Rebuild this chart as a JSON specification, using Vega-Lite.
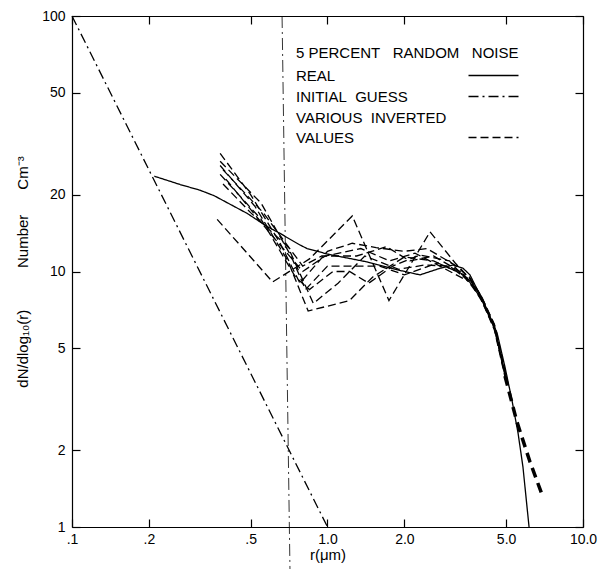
{
  "$schema": "https://vega.github.io/schema/vega-lite/v6.json",
  "width": 511,
  "height": 511,
  "autosize": {"type": "none"},
  "padding": {"left": 72, "top": 16, "right": 22, "bottom": 42},
  "background": "white",
  "config": {
    "view": {"stroke": null},
    "font": "Liberation Sans",
    "axis": {
      "grid": false,
      "domainColor": "black",
      "domainWidth": 1.2,
      "tickColor": "black",
      "tickWidth": 1.2,
      "tickSize": -8,
      "labelColor": "black",
      "labelFont": "Liberation Sans",
      "labelFontSize": 14,
      "labelFlush": false,
      "labelOverlap": false,
      "labelBound": false,
      "titleFont": "Liberation Sans",
      "titleFontWeight": "normal",
      "titleColor": "black"
    }
  },
  "datasets": {
    "curves": [
      {"series": "INITIAL GUESS", "curve": "guess", "r": 0.1, "n": 100},
      {"series": "INITIAL GUESS", "curve": "guess", "r": 1.0, "n": 1.0},

      {"series": "REAL", "curve": "real", "r": 0.21, "n": 23.6},
      {"series": "REAL", "curve": "real", "r": 0.265, "n": 21.9},
      {"series": "REAL", "curve": "real", "r": 0.317, "n": 20.8},
      {"series": "REAL", "curve": "real", "r": 0.36, "n": 19.8},
      {"series": "REAL", "curve": "real", "r": 0.43, "n": 18.0},
      {"series": "REAL", "curve": "real", "r": 0.484, "n": 16.9},
      {"series": "REAL", "curve": "real", "r": 0.58, "n": 15.0},
      {"series": "REAL", "curve": "real", "r": 0.652, "n": 14.1},
      {"series": "REAL", "curve": "real", "r": 0.78, "n": 12.7},
      {"series": "REAL", "curve": "real", "r": 0.832, "n": 12.3},
      {"series": "REAL", "curve": "real", "r": 1.0, "n": 11.7},
      {"series": "REAL", "curve": "real", "r": 1.09, "n": 11.5},
      {"series": "REAL", "curve": "real", "r": 1.43, "n": 10.9},
      {"series": "REAL", "curve": "real", "r": 1.92, "n": 10.1},
      {"series": "REAL", "curve": "real", "r": 2.3, "n": 9.7},
      {"series": "REAL", "curve": "real", "r": 2.76, "n": 10.3},
      {"series": "REAL", "curve": "real", "r": 3.1, "n": 10.6},
      {"series": "REAL", "curve": "real", "r": 3.39, "n": 10.3},
      {"series": "REAL", "curve": "real", "r": 3.61, "n": 9.7},
      {"series": "REAL", "curve": "real", "r": 4.0, "n": 7.9},
      {"series": "REAL", "curve": "real", "r": 4.61, "n": 5.75},
      {"series": "REAL", "curve": "real", "r": 4.95, "n": 4.23},
      {"series": "REAL", "curve": "real", "r": 5.27, "n": 3.14},
      {"series": "REAL", "curve": "real", "r": 5.57, "n": 2.33},
      {"series": "REAL", "curve": "real", "r": 5.82, "n": 1.72},
      {"series": "REAL", "curve": "real", "r": 6.15, "n": 1.0},

      {"series": "VARIOUS INVERTED VALUES", "curve": "c1", "r": 0.38, "n": 29},
      {"series": "VARIOUS INVERTED VALUES", "curve": "c1", "r": 0.5, "n": 20},
      {"series": "VARIOUS INVERTED VALUES", "curve": "c1", "r": 0.65, "n": 13},
      {"series": "VARIOUS INVERTED VALUES", "curve": "c1", "r": 0.78, "n": 9.0},
      {"series": "VARIOUS INVERTED VALUES", "curve": "c1", "r": 1.0, "n": 12.0},
      {"series": "VARIOUS INVERTED VALUES", "curve": "c1", "r": 1.25, "n": 12.9},
      {"series": "VARIOUS INVERTED VALUES", "curve": "c1", "r": 1.55, "n": 12.4},
      {"series": "VARIOUS INVERTED VALUES", "curve": "c1", "r": 2.0, "n": 12.0},
      {"series": "VARIOUS INVERTED VALUES", "curve": "c1", "r": 2.45, "n": 12.3},
      {"series": "VARIOUS INVERTED VALUES", "curve": "c1", "r": 3.2, "n": 10.5},
      {"series": "VARIOUS INVERTED VALUES", "curve": "c1", "r": 3.6, "n": 9.4},
      {"series": "VARIOUS INVERTED VALUES", "curve": "c1", "r": 4.0, "n": 7.9},
      {"series": "VARIOUS INVERTED VALUES", "curve": "c1", "r": 4.5, "n": 6.1},
      {"series": "VARIOUS INVERTED VALUES", "curve": "c1", "r": 5.0, "n": 3.9},

      {"series": "VARIOUS INVERTED VALUES", "curve": "c2", "r": 0.38, "n": 26},
      {"series": "VARIOUS INVERTED VALUES", "curve": "c2", "r": 0.52, "n": 18},
      {"series": "VARIOUS INVERTED VALUES", "curve": "c2", "r": 0.7, "n": 11},
      {"series": "VARIOUS INVERTED VALUES", "curve": "c2", "r": 0.84, "n": 7.0},
      {"series": "VARIOUS INVERTED VALUES", "curve": "c2", "r": 1.22, "n": 7.7},
      {"series": "VARIOUS INVERTED VALUES", "curve": "c2", "r": 1.5, "n": 9.5},
      {"series": "VARIOUS INVERTED VALUES", "curve": "c2", "r": 2.0, "n": 11.4},
      {"series": "VARIOUS INVERTED VALUES", "curve": "c2", "r": 2.6, "n": 11.0},
      {"series": "VARIOUS INVERTED VALUES", "curve": "c2", "r": 3.2, "n": 10.0},
      {"series": "VARIOUS INVERTED VALUES", "curve": "c2", "r": 3.6, "n": 9.2},
      {"series": "VARIOUS INVERTED VALUES", "curve": "c2", "r": 4.0, "n": 7.7},
      {"series": "VARIOUS INVERTED VALUES", "curve": "c2", "r": 4.5, "n": 6.0},
      {"series": "VARIOUS INVERTED VALUES", "curve": "c2", "r": 5.0, "n": 3.8},

      {"series": "VARIOUS INVERTED VALUES", "curve": "c3", "r": 0.37, "n": 16},
      {"series": "VARIOUS INVERTED VALUES", "curve": "c3", "r": 0.61, "n": 9.1},
      {"series": "VARIOUS INVERTED VALUES", "curve": "c3", "r": 0.85, "n": 11.2},
      {"series": "VARIOUS INVERTED VALUES", "curve": "c3", "r": 1.25, "n": 16.5},
      {"series": "VARIOUS INVERTED VALUES", "curve": "c3", "r": 1.74, "n": 7.7},
      {"series": "VARIOUS INVERTED VALUES", "curve": "c3", "r": 2.52, "n": 14.3},
      {"series": "VARIOUS INVERTED VALUES", "curve": "c3", "r": 3.16, "n": 10.8},
      {"series": "VARIOUS INVERTED VALUES", "curve": "c3", "r": 3.6, "n": 9.4},
      {"series": "VARIOUS INVERTED VALUES", "curve": "c3", "r": 4.0, "n": 8.0},
      {"series": "VARIOUS INVERTED VALUES", "curve": "c3", "r": 4.5, "n": 6.2},
      {"series": "VARIOUS INVERTED VALUES", "curve": "c3", "r": 5.0, "n": 3.9},

      {"series": "VARIOUS INVERTED VALUES", "curve": "c4", "r": 0.38, "n": 24},
      {"series": "VARIOUS INVERTED VALUES", "curve": "c4", "r": 0.55, "n": 16},
      {"series": "VARIOUS INVERTED VALUES", "curve": "c4", "r": 0.75, "n": 9.5},
      {"series": "VARIOUS INVERTED VALUES", "curve": "c4", "r": 0.85, "n": 8.5},
      {"series": "VARIOUS INVERTED VALUES", "curve": "c4", "r": 1.05, "n": 10.0},
      {"series": "VARIOUS INVERTED VALUES", "curve": "c4", "r": 1.22, "n": 10.0},
      {"series": "VARIOUS INVERTED VALUES", "curve": "c4", "r": 1.45, "n": 9.0},
      {"series": "VARIOUS INVERTED VALUES", "curve": "c4", "r": 1.8, "n": 10.5},
      {"series": "VARIOUS INVERTED VALUES", "curve": "c4", "r": 2.3, "n": 11.6},
      {"series": "VARIOUS INVERTED VALUES", "curve": "c4", "r": 3.0, "n": 11.0},
      {"series": "VARIOUS INVERTED VALUES", "curve": "c4", "r": 3.6, "n": 9.0},
      {"series": "VARIOUS INVERTED VALUES", "curve": "c4", "r": 4.0, "n": 7.8},
      {"series": "VARIOUS INVERTED VALUES", "curve": "c4", "r": 4.5, "n": 5.9},
      {"series": "VARIOUS INVERTED VALUES", "curve": "c4", "r": 5.0, "n": 3.7},

      {"series": "VARIOUS INVERTED VALUES", "curve": "c5", "r": 0.39, "n": 25},
      {"series": "VARIOUS INVERTED VALUES", "curve": "c5", "r": 0.56, "n": 17},
      {"series": "VARIOUS INVERTED VALUES", "curve": "c5", "r": 0.8, "n": 10.5},
      {"series": "VARIOUS INVERTED VALUES", "curve": "c5", "r": 0.95, "n": 11.5},
      {"series": "VARIOUS INVERTED VALUES", "curve": "c5", "r": 1.3, "n": 11.5},
      {"series": "VARIOUS INVERTED VALUES", "curve": "c5", "r": 1.7, "n": 12.5},
      {"series": "VARIOUS INVERTED VALUES", "curve": "c5", "r": 2.1, "n": 11.0},
      {"series": "VARIOUS INVERTED VALUES", "curve": "c5", "r": 2.6, "n": 11.5},
      {"series": "VARIOUS INVERTED VALUES", "curve": "c5", "r": 3.3, "n": 10.0},
      {"series": "VARIOUS INVERTED VALUES", "curve": "c5", "r": 3.6, "n": 9.2},
      {"series": "VARIOUS INVERTED VALUES", "curve": "c5", "r": 4.0, "n": 7.9},
      {"series": "VARIOUS INVERTED VALUES", "curve": "c5", "r": 4.5, "n": 6.1},
      {"series": "VARIOUS INVERTED VALUES", "curve": "c5", "r": 5.0, "n": 3.8},

      {"series": "VARIOUS INVERTED VALUES", "curve": "c6", "r": 0.39, "n": 22},
      {"series": "VARIOUS INVERTED VALUES", "curve": "c6", "r": 0.5, "n": 17},
      {"series": "VARIOUS INVERTED VALUES", "curve": "c6", "r": 0.7, "n": 12.5},
      {"series": "VARIOUS INVERTED VALUES", "curve": "c6", "r": 0.88, "n": 7.5},
      {"series": "VARIOUS INVERTED VALUES", "curve": "c6", "r": 1.1, "n": 9.0},
      {"series": "VARIOUS INVERTED VALUES", "curve": "c6", "r": 1.4, "n": 11.5},
      {"series": "VARIOUS INVERTED VALUES", "curve": "c6", "r": 1.9, "n": 10.2},
      {"series": "VARIOUS INVERTED VALUES", "curve": "c6", "r": 2.4, "n": 10.6},
      {"series": "VARIOUS INVERTED VALUES", "curve": "c6", "r": 3.0, "n": 10.5},
      {"series": "VARIOUS INVERTED VALUES", "curve": "c6", "r": 3.6, "n": 9.3},
      {"series": "VARIOUS INVERTED VALUES", "curve": "c6", "r": 4.0, "n": 8.0},
      {"series": "VARIOUS INVERTED VALUES", "curve": "c6", "r": 4.5, "n": 6.0},
      {"series": "VARIOUS INVERTED VALUES", "curve": "c6", "r": 5.0, "n": 3.75},

      {"series": "VARIOUS INVERTED VALUES", "curve": "c7", "r": 0.4, "n": 23},
      {"series": "VARIOUS INVERTED VALUES", "curve": "c7", "r": 0.6, "n": 14},
      {"series": "VARIOUS INVERTED VALUES", "curve": "c7", "r": 0.8, "n": 10},
      {"series": "VARIOUS INVERTED VALUES", "curve": "c7", "r": 0.98, "n": 11.5},
      {"series": "VARIOUS INVERTED VALUES", "curve": "c7", "r": 1.35, "n": 12.3},
      {"series": "VARIOUS INVERTED VALUES", "curve": "c7", "r": 1.75, "n": 11.0},
      {"series": "VARIOUS INVERTED VALUES", "curve": "c7", "r": 2.2, "n": 11.8},
      {"series": "VARIOUS INVERTED VALUES", "curve": "c7", "r": 2.8, "n": 10.4},
      {"series": "VARIOUS INVERTED VALUES", "curve": "c7", "r": 3.6, "n": 9.1},
      {"series": "VARIOUS INVERTED VALUES", "curve": "c7", "r": 4.0, "n": 7.8},
      {"series": "VARIOUS INVERTED VALUES", "curve": "c7", "r": 4.5, "n": 6.0},
      {"series": "VARIOUS INVERTED VALUES", "curve": "c7", "r": 5.0, "n": 3.8},

      {"series": "VARIOUS INVERTED VALUES", "curve": "c8", "r": 0.38, "n": 27},
      {"series": "VARIOUS INVERTED VALUES", "curve": "c8", "r": 0.55, "n": 18.5},
      {"series": "VARIOUS INVERTED VALUES", "curve": "c8", "r": 0.72, "n": 11.5},
      {"series": "VARIOUS INVERTED VALUES", "curve": "c8", "r": 0.82, "n": 8.5},
      {"series": "VARIOUS INVERTED VALUES", "curve": "c8", "r": 1.0, "n": 10.5},
      {"series": "VARIOUS INVERTED VALUES", "curve": "c8", "r": 1.6, "n": 10.5},
      {"series": "VARIOUS INVERTED VALUES", "curve": "c8", "r": 2.0, "n": 9.7},
      {"series": "VARIOUS INVERTED VALUES", "curve": "c8", "r": 2.7, "n": 10.8},
      {"series": "VARIOUS INVERTED VALUES", "curve": "c8", "r": 3.6, "n": 9.5},
      {"series": "VARIOUS INVERTED VALUES", "curve": "c8", "r": 4.0, "n": 8.0},
      {"series": "VARIOUS INVERTED VALUES", "curve": "c8", "r": 4.5, "n": 6.2},
      {"series": "VARIOUS INVERTED VALUES", "curve": "c8", "r": 5.0, "n": 3.85},

      {"series": "VARIOUS INVERTED VALUES", "curve": "tail", "r": 4.95, "n": 3.9},
      {"series": "VARIOUS INVERTED VALUES", "curve": "tail", "r": 5.5, "n": 2.6},
      {"series": "VARIOUS INVERTED VALUES", "curve": "tail", "r": 6.2, "n": 1.8},
      {"series": "VARIOUS INVERTED VALUES", "curve": "tail", "r": 6.97, "n": 1.31}
    ],
    "divider": [
      {"r": 0.664, "n": 100},
      {"r": 0.713, "n": 0.685}
    ]
  },
  "layer": [
    {
      "data": {"name": "curves"},
      "transform": [{"filter": "datum.curve != 'tail'"}],
      "mark": {"type": "line", "color": "black", "strokeWidth": 1.3},
      "encoding": {
        "x": {
          "field": "r", "type": "quantitative",
          "scale": {"type": "log", "domain": [0.1, 10]},
          "axis": {
            "values": [0.1, 0.2, 0.5, 1, 2, 5, 10],
            "labelExpr": "datum.value == 0.1 ? '.1' : datum.value == 0.2 ? '.2' : datum.value == 0.5 ? '.5' : format(datum.value, '.1f')",
            "labelPadding": 13,
            "title": "r(μm)",
            "titleFontSize": 15,
            "titlePadding": 1
          }
        },
        "y": {
          "field": "n", "type": "quantitative",
          "scale": {"type": "log", "domain": [1, 100]},
          "axis": {
            "values": [1, 2, 5, 10, 20, 50, 100],
            "format": "d",
            "labelPadding": 15,
            "title": "dN/dlog\u2081\u2080(r)\u00a0\u00a0\u00a0\u00a0\u00a0\u00a0\u00a0\u00a0\u00a0\u00a0Number\u00a0\u00a0\u00a0\u00a0\u00a0\u00a0Cm\u207b\u00b3",
            "titleFontSize": 15,
            "titlePadding": 11
          }
        },
        "strokeDash": {
          "field": "series", "type": "nominal",
          "scale": {
            "domain": ["REAL", "INITIAL GUESS", "VARIOUS INVERTED VALUES"],
            "range": [[1, 0], [10, 4, 2, 4], [8, 4]]
          },
          "legend": {
            "orient": "none",
            "legendX": 224,
            "legendY": 30,
            "padding": 0,
            "title": "5 PERCENT\u00a0\u00a0\u00a0RANDOM\u00a0\u00a0\u00a0NOISE",
            "titleFont": "Liberation Sans",
            "titleFontSize": 15,
            "titleFontWeight": "normal",
            "titleColor": "black",
            "titlePadding": 7,
            "titleLimit": 400,
            "labelFont": "Liberation Sans",
            "labelFontSize": 15,
            "labelColor": "black",
            "labelLimit": 400,
            "labelExpr": "datum.label == 'VARIOUS INVERTED VALUES' ? ['VARIOUS\u00a0\u00a0INVERTED', '\u00a0\u00a0\u00a0\u00a0\u00a0\u00a0\u00a0\u00a0\u00a0\u00a0\u00a0\u00a0VALUES'] : datum.label == 'INITIAL GUESS' ? 'INITIAL\u00a0\u00a0GUESS' : datum.label",
            "symbolType": "M-5,0H5",
            "symbolSize": 100,
            "symbolStrokeWidth": 1.3,
            "symbolStrokeColor": "black",
            "symbolOffset": 190,
            "labelOffset": -205,
            "rowPadding": 5,
            "encode": {
              "labels": {
                "update": {
                  "dy": {"signal": "datum.label == 'VARIOUS INVERTED VALUES' ? -20 : 0"},
                  "lineHeight": {"value": 20}
                }
              }
            }
          }
        },
        "detail": {"field": "curve"}
      }
    },
    {
      "data": {"name": "curves"},
      "transform": [{"filter": "datum.curve == 'tail'"}],
      "mark": {"type": "line", "color": "black", "strokeWidth": 3.5, "strokeDash": [10, 6]},
      "encoding": {
        "x": {"field": "r", "type": "quantitative", "axis": null},
        "y": {"field": "n", "type": "quantitative", "axis": null}
      }
    },
    {
      "data": {"name": "divider"},
      "mark": {"type": "line", "color": "black", "strokeWidth": 0.8, "strokeDash": [12, 4, 2, 4], "clip": false},
      "encoding": {
        "x": {
          "field": "r", "type": "quantitative",
          "axis": {"orient": "top", "values": [0.1, 0.2, 0.5, 1, 2, 5, 10], "labels": false, "title": null}
        },
        "y": {
          "field": "n", "type": "quantitative",
          "axis": {"orient": "right", "values": [1, 2, 5, 10, 20, 50, 100], "labels": false, "title": null}
        }
      }
    }
  ],
  "resolve": {"axis": {"x": "independent", "y": "independent"}}
}
